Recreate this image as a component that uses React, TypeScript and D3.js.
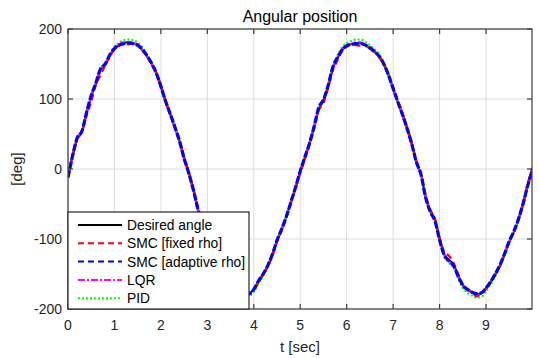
import React from "react";
import * as d3 from "d3";

const TIME_STEP = 0.1;
const TIMES: number[] = d3.range(0, 101).map((i) => +(i * TIME_STEP).toFixed(2));

const desired: number[] = [
  -11, 20, 44, 54, 80, 104, 122, 142, 149, 162,
  172, 177, 180, 181, 180, 177, 170, 161, 150, 137,
  118, 96, 78, 60, 40, 15, -6, -30, -58, -80,
  -100, -118, -134, -148, -159, -168, -174, -178, -180, -178,
  -172, -160, -150, -138, -122, -102, -86, -68, -47, -26,
  -4, 16, 36, 60, 86, 98, 118, 144, 158, 170,
  176, 178, 180, 180, 177, 172, 168, 161, 150, 134,
  115, 96, 78, 58, 36, 10, -8, -40, -60, -72,
  -100, -122, -130, -136, -152, -166, -172, -176, -179, -177,
  -170, -161, -150, -138, -122, -104, -90, -72, -50, -24, -2,
];

const smcFixed: number[] = [
  -10, 18, 42, 53, 76, 96, 120, 134, 148, 160,
  171, 176, 179, 178, 181, 176, 169, 162, 151, 138,
  120, 98, 80, 61, 42, 17, -4, -28, -56, -79,
  -99, -117, -133, -147, -158, -167, -173, -177, -179, -178,
  -173, -162, -151, -139, -124, -104, -88, -70, -49, -28,
  -6, 14, 34, 58, 84, 94, 116, 140, 155, 168,
  175, 178, 177, 176, 178, 171, 167, 160, 149, 136,
  117, 98, 80, 60, 38, 12, -6, -37, -58, -71,
  -98, -118, -124, -134, -150, -165, -171, -177, -182, -178,
  -171, -162, -151, -139, -121, -103, -89, -70, -48, -20, 2,
];

const smcAdaptive: number[] = [
  -12, 19, 45, 54, 81, 105, 123, 143, 150, 163,
  172, 177, 179, 180, 179, 177, 171, 162, 151, 137,
  118, 97, 79, 60, 40, 15, -6, -30, -58, -80,
  -100, -118, -134, -148, -159, -168, -174, -178, -179, -178,
  -172, -160, -150, -138, -122, -102, -86, -68, -47, -26,
  -3, 17, 37, 61, 88, 99, 119, 145, 159, 170,
  176, 178, 179, 179, 177, 173, 168, 161, 150, 134,
  115, 96, 78, 58, 36, 10, -8, -41, -61, -74,
  -101, -123, -131, -138, -153, -166, -172, -176, -178, -177,
  -170, -161, -150, -137, -121, -103, -89, -71, -49, -23, -1,
];

const lqr: number[] = [
  -11, 21, 44, 55, 80, 103, 122, 141, 149, 162,
  173, 178, 181, 181, 180, 177, 170, 161, 150, 137,
  117, 96, 77, 59, 39, 14, -7, -31, -59, -81,
  -101, -119, -135, -149, -160, -169, -175, -179, -181, -179,
  -173, -161, -151, -139, -123, -103, -86, -68, -47, -25,
  -3, 17, 37, 61, 86, 98, 119, 144, 158, 171,
  177, 179, 181, 181, 178, 173, 168, 160, 149, 133,
  114, 95, 77, 57, 35, 9, -9, -40, -60, -73,
  -100, -122, -131, -137, -153, -167, -173, -177, -180, -178,
  -171, -161, -150, -138, -122, -104, -90, -72, -50, -24, -2,
];

const pid: number[] = [
  -13, 19, 43, 55, 80, 104, 123, 143, 151, 164,
  175, 181, 184, 185, 184, 181, 174, 164, 152, 139,
  120, 99, 80, 62, 42, 17, -5, -30, -58, -81,
  -102, -120, -137, -151, -163, -172, -179, -183, -184, -182,
  -176, -164, -153, -140, -124, -103, -87, -68, -46, -25,
  -3, 17, 38, 62, 88, 100, 121, 147, 162, 174,
  180, 183, 185, 185, 182, 177, 171, 164, 152, 137,
  117, 98, 80, 60, 37, 11, -8, -41, -62, -75,
  -103, -125, -134, -141, -157, -170, -177, -181, -184, -183,
  -175, -165, -153, -140, -124, -105, -90, -72, -50, -24, -1,
];

const legendLabels: string[] = [
  "Desired angle",
  "SMC [fixed rho]",
  "SMC [adaptive rho]",
  "LQR",
  "PID",
];
const yTickValues: number[] = [-200, -100, 0, 100, 200];
const xDomain: [number, number] = [0, 9.99];
const yDomain: [number, number] = [-200, 200];

const W = 539;
const H = 358;
const M = { left: 68, right: 7, top: 29, bottom: 49 };
const FONT = "'Liberation Sans', Arial, Helvetica, sans-serif";

type Series = {
  name: string;
  values: number[];
  color: string;
  width: number;
  dash: string | null;
};

export default function App() {
  const x = d3.scaleLinear().domain(xDomain).range([M.left, W - M.right]);
  const y = d3.scaleLinear().domain(yDomain).range([H - M.bottom, M.top]);
  const x0 = M.left;
  const x1 = W - M.right;
  const y0 = M.top;
  const y1 = H - M.bottom;

  const series: Series[] = [
    { name: legendLabels[0], values: desired, color: "#000000", width: 2, dash: null },
    { name: legendLabels[1], values: smcFixed, color: "#ff0000", width: 2.2, dash: "6,4" },
    { name: legendLabels[2], values: smcAdaptive, color: "#0000ff", width: 3.2, dash: "7,2" },
    { name: legendLabels[3], values: lqr, color: "#ff00ff", width: 2.2, dash: "7,2,2,2" },
    { name: legendLabels[4], values: pid, color: "#00ff00", width: 2, dash: "2,2" },
  ];
  const drawOrder = [0, 4, 3, 1, 2];

  const line = (vals: number[]) =>
    d3
      .line<number>()
      .x((_, i) => x(TIMES[i]))
      .y((d) => y(d))
      .curve(d3.curveMonotoneX)(vals) || "";

  const xTicks = x.ticks(10).filter((t) => t <= xDomain[1]);
  const tickLen = 5;
  const axisColor = "#3c3c3c";
  const gridColor = "#dedede";
  const textColor = "#262626";

  const legX = x0;
  const legY = 212;
  const legW = 181;
  const legH = y1 - legY;
  const rowH = 18.3;

  return (
    <svg
      width={W}
      height={H}
      style={{ position: "absolute", left: 0, top: 0, background: "#fff" }}
      fontFamily={FONT}
    >
      <defs>
        <clipPath id="plotClip">
          <rect x={x0} y={y0} width={x1 - x0} height={y1 - y0} />
        </clipPath>
      </defs>
      <rect x={0} y={0} width={W} height={H} fill="#fff" />
      <rect x={x0} y={y0} width={x1 - x0} height={y1 - y0} fill="#fff" />
      {xTicks.map((t) => (
        <line key={"gx" + t} x1={x(t)} x2={x(t)} y1={y0} y2={y1} stroke={gridColor} strokeWidth={1} />
      ))}
      {yTickValues.map((t) => (
        <line key={"gy" + t} x1={x0} x2={x1} y1={y(t)} y2={y(t)} stroke={gridColor} strokeWidth={1} />
      ))}
      <g clipPath="url(#plotClip)" fill="none" strokeLinejoin="round">
        {drawOrder.map((i) => {
          const s = series[i];
          return (
            <path
              key={s.name}
              d={line(s.values)}
              stroke={s.color}
              strokeWidth={s.width}
              strokeDasharray={s.dash || undefined}
            />
          );
        })}
      </g>
      <rect x={x0} y={y0} width={x1 - x0} height={y1 - y0} fill="none" stroke={axisColor} strokeWidth={1.2} />
      {xTicks.map((t) => (
        <g key={"tx" + t}>
          <line x1={x(t)} x2={x(t)} y1={y1} y2={y1 - tickLen} stroke={axisColor} strokeWidth={1.2} />
          <line x1={x(t)} x2={x(t)} y1={y0} y2={y0 + tickLen} stroke={axisColor} strokeWidth={1.2} />
          <text x={x(t)} y={y1 + 21} textAnchor="middle" fontSize={14} fill={textColor}>
            {t}
          </text>
        </g>
      ))}
      {yTickValues.map((t) => (
        <g key={"ty" + t}>
          <line x1={x0} x2={x0 + tickLen} y1={y(t)} y2={y(t)} stroke={axisColor} strokeWidth={1.2} />
          <line x1={x1} x2={x1 - tickLen} y1={y(t)} y2={y(t)} stroke={axisColor} strokeWidth={1.2} />
          <text x={x0 - 6} y={y(t) + 5} textAnchor="end" fontSize={14} fill={textColor}>
            {t}
          </text>
        </g>
      ))}
      <text x={(x0 + x1) / 2} y={22} textAnchor="middle" fontSize={16} fill="#000">
        Angular position
      </text>
      <text x={(x0 + x1) / 2} y={352} textAnchor="middle" fontSize={15} fill={textColor}>
        t [sec]
      </text>
      <text
        transform={`translate(22,${(y0 + y1) / 2}) rotate(-90)`}
        textAnchor="middle"
        fontSize={15}
        fill={textColor}
      >
        [deg]
      </text>
      <g>
        <rect x={legX} y={legY} width={legW} height={legH} fill="#fff" stroke="#262626" strokeWidth={1.2} />
        {series.map((s, i) => {
          const cy = legY + 13 + i * rowH;
          return (
            <g key={"leg" + s.name}>
              <line
                x1={legX + 10}
                x2={legX + 54}
                y1={cy}
                y2={cy}
                stroke={s.color}
                strokeWidth={2}
                strokeDasharray={s.dash ? (i === 2 ? "6,4" : s.dash) : undefined}
              />
              <text x={legX + 59} y={cy + 5} fontSize={13.8} fill="#000">
                {s.name}
              </text>
            </g>
          );
        })}
      </g>
    </svg>
  );
}
